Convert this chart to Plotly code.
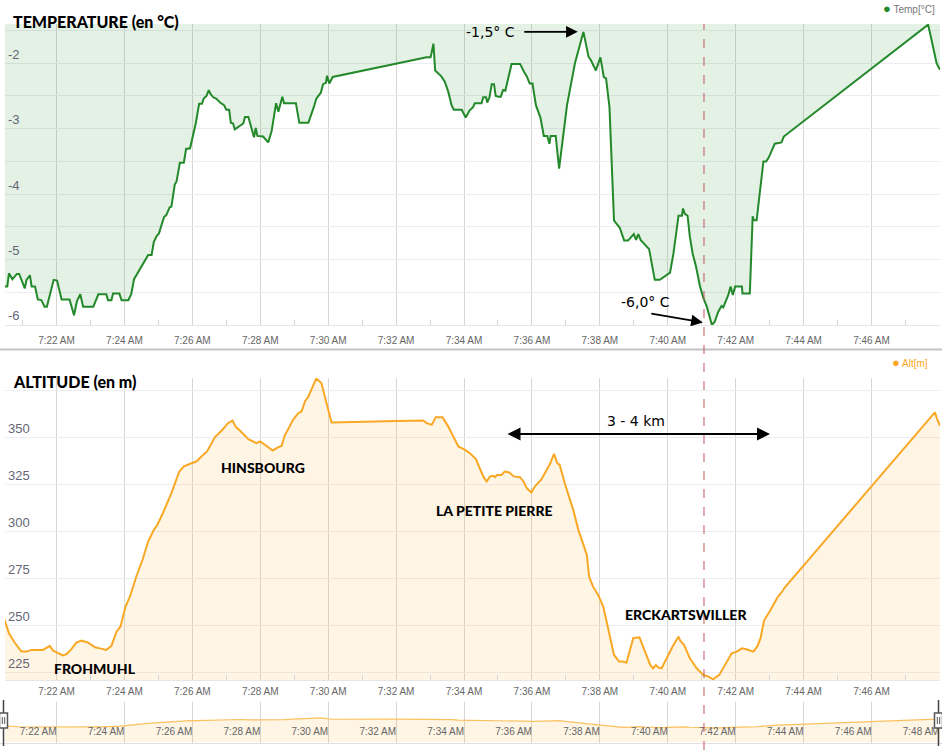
import plotly.graph_objects as go

W, H = 942, 750
DAY = "2016-12-01 "

# temperature trace (time, degC)
temp_time = [
    "07:20:25", "07:20:27", "07:20:33", "07:20:36", "07:20:42", "07:20:50", "07:20:54", "07:21:00",
    "07:21:04", "07:21:07", "07:21:13", "07:21:16", "07:21:22", "07:21:27", "07:21:33", "07:21:39",
    "07:21:43", "07:21:55", "07:22:01", "07:22:09", "07:22:23", "07:22:31", "07:22:36", "07:22:42",
    "07:22:47", "07:23:05", "07:23:14", "07:23:28", "07:23:31", "07:23:37", "07:23:40", "07:23:51",
    "07:23:55", "07:24:07", "07:24:12", "07:24:17", "07:24:42", "07:24:48", "07:24:52", "07:24:57",
    "07:25:01", "07:25:10", "07:25:14", "07:25:20", "07:25:23", "07:25:29", "07:25:32", "07:25:38",
    "07:25:45", "07:25:49", "07:25:56", "07:26:06", "07:26:12", "07:26:17", "07:26:20", "07:26:25",
    "07:26:29", "07:26:32", "07:26:37", "07:26:42", "07:26:49", "07:26:56", "07:27:00", "07:27:05",
    "07:27:08", "07:27:12", "07:27:15", "07:27:30", "07:27:33", "07:27:39", "07:27:45", "07:27:49",
    "07:27:52", "07:27:55", "07:28:05", "07:28:11", "07:28:14", "07:28:20", "07:28:28", "07:28:32",
    "07:28:36", "07:28:39", "07:28:42", "07:29:03", "07:29:09", "07:29:25", "07:29:35", "07:29:39",
    "07:29:47", "07:29:51", "07:29:56", "07:29:58", "07:30:02", "07:30:08", "07:32:54", "07:33:01",
    "07:33:06", "07:33:09", "07:33:20", "07:33:26", "07:33:32", "07:33:38", "07:33:42", "07:33:56",
    "07:34:03", "07:34:10", "07:34:16", "07:34:19", "07:34:31", "07:34:34", "07:34:39", "07:34:41",
    "07:34:45", "07:34:49", "07:34:53", "07:34:56", "07:35:01", "07:35:05", "07:35:09", "07:35:13",
    "07:35:24", "07:35:39", "07:35:46", "07:35:51", "07:35:56", "07:36:01", "07:36:07", "07:36:15",
    "07:36:21", "07:36:27", "07:36:31", "07:36:33", "07:36:42", "07:36:48", "07:37:02", "07:37:16",
    "07:37:31", "07:37:40", "07:37:44", "07:37:53", "07:37:57", "07:38:01", "07:38:07", "07:38:11",
    "07:38:17", "07:38:25", "07:38:30", "07:38:35", "07:38:43", "07:38:50", "07:38:56", "07:39:00",
    "07:39:04", "07:39:08", "07:39:12", "07:39:23", "07:39:27", "07:39:33", "07:39:37", "07:39:46",
    "07:39:55", "07:40:04", "07:40:10", "07:40:19", "07:40:25", "07:40:27", "07:40:30", "07:40:35",
    "07:40:39", "07:40:44", "07:40:50", "07:40:57", "07:41:03", "07:41:09", "07:41:18", "07:41:23",
    "07:41:29", "07:41:35", "07:41:38", "07:41:43", "07:41:47", "07:41:51", "07:41:55", "07:41:59",
    "07:42:11", "07:42:12", "07:42:25", "07:42:30", "07:42:32", "07:42:37", "07:42:43", "07:42:49",
    "07:42:54", "07:42:59", "07:43:09", "07:43:21", "07:43:25", "07:47:38", "07:47:40", "07:47:46",
    "07:47:55", "07:48:01",
]
temp_val = [
    -5.34, -5.41, -5.41, -5.21, -5.30, -5.22, -5.22, -5.36,
    -5.44, -5.31, -5.24, -5.41, -5.41, -5.61, -5.62, -5.72,
    -5.72, -5.31, -5.32, -5.61, -5.61, -5.85, -5.64, -5.53,
    -5.72, -5.72, -5.53, -5.53, -5.62, -5.62, -5.52, -5.52,
    -5.62, -5.62, -5.53, -5.30, -4.93, -4.93, -4.73, -4.64,
    -4.60, -4.35, -4.32, -4.20, -4.19, -3.85, -3.81, -3.52,
    -3.52, -3.31, -3.30, -2.92, -2.62, -2.62, -2.54, -2.50,
    -2.41, -2.47, -2.52, -2.54, -2.60, -2.64, -2.71, -2.71,
    -2.91, -2.92, -3.01, -2.92, -2.82, -2.82, -2.99, -3.13,
    -2.99, -3.11, -3.12, -3.17, -3.21, -3.04, -2.61, -2.74,
    -2.60, -2.51, -2.61, -2.61, -2.91, -2.91, -2.66, -2.54,
    -2.45, -2.32, -2.30, -2.19, -2.31, -2.21, -1.91, -1.91,
    -1.70, -2.11, -2.20, -2.28, -2.43, -2.64, -2.71, -2.71,
    -2.83, -2.72, -2.67, -2.61, -2.61, -2.52, -2.52, -2.60,
    -2.52, -2.32, -2.32, -2.50, -2.51, -2.51, -2.41, -2.42,
    -2.01, -2.01, -2.13, -2.20, -2.31, -2.31, -2.64, -2.83,
    -3.11, -3.11, -3.23, -3.11, -3.11, -3.61, -2.64, -2.00,
    -1.52, -1.90, -1.95, -2.11, -2.01, -1.91, -2.21, -2.23,
    -2.67, -4.40, -4.46, -4.51, -4.71, -4.71, -4.65, -4.61,
    -4.70, -4.61, -4.70, -4.80, -4.84, -5.12, -5.31, -5.31,
    -5.26, -5.20, -4.91, -4.33, -4.33, -4.22, -4.30, -4.33,
    -4.65, -4.91, -5.11, -5.41, -5.59, -5.72, -6.00, -5.95,
    -5.80, -5.71, -5.73, -5.62, -5.54, -5.41, -5.54, -5.41,
    -5.41, -5.52, -5.52, -4.34, -4.40, -4.40, -3.99, -3.50,
    -3.50, -3.43, -3.23, -3.21, -3.12, -1.41, -1.41, -1.64,
    -2.00, -2.10,
]

# altitude trace (time, m)
alt_time = [
    "07:20:25", "07:20:30", "07:20:36", "07:20:46", "07:20:58", "07:21:07", "07:21:16", "07:21:36",
    "07:21:48", "07:21:54", "07:22:03", "07:22:11", "07:22:18", "07:22:26", "07:22:35", "07:22:44",
    "07:22:56", "07:23:08", "07:23:17", "07:23:28", "07:23:37", "07:23:46", "07:23:53", "07:24:02",
    "07:24:10", "07:24:21", "07:24:32", "07:24:42", "07:24:52", "07:24:58", "07:25:08", "07:25:23",
    "07:25:37", "07:25:45", "07:25:56", "07:26:07", "07:26:16", "07:26:26", "07:26:40", "07:26:52",
    "07:27:03", "07:27:11", "07:27:17", "07:27:24", "07:27:39", "07:27:53", "07:28:00", "07:28:10",
    "07:28:22", "07:28:32", "07:28:38", "07:28:43", "07:28:58", "07:29:07", "07:29:13", "07:29:19",
    "07:29:25", "07:29:39", "07:29:48", "07:29:57", "07:30:06", "07:32:01", "07:32:48", "07:32:54",
    "07:33:03", "07:33:10", "07:33:22", "07:33:32", "07:33:40", "07:33:50", "07:34:02", "07:34:10",
    "07:34:21", "07:34:28", "07:34:34", "07:34:40", "07:34:46", "07:34:52", "07:34:55", "07:34:58",
    "07:35:06", "07:35:12", "07:35:20", "07:35:28", "07:35:39", "07:35:45", "07:35:51", "07:35:59",
    "07:36:05", "07:36:17", "07:36:23", "07:36:32", "07:36:39", "07:36:45", "07:36:49", "07:36:58",
    "07:37:13", "07:37:22", "07:37:28", "07:37:37", "07:37:41", "07:37:48", "07:37:57", "07:38:06",
    "07:38:12", "07:38:18", "07:38:25", "07:38:34", "07:38:41", "07:38:47", "07:38:59", "07:39:10",
    "07:39:20", "07:39:29", "07:39:34", "07:39:39", "07:39:43", "07:39:49", "07:40:01", "07:40:10",
    "07:40:19", "07:40:22", "07:40:29", "07:40:39", "07:40:51", "07:41:03", "07:41:12", "07:41:20",
    "07:41:31", "07:41:38", "07:41:44", "07:41:53", "07:42:02", "07:42:11", "07:42:19", "07:42:31",
    "07:42:38", "07:42:44", "07:42:50", "07:43:01", "07:43:14", "07:43:21", "07:43:27", "07:47:49",
    "07:47:52", "07:47:56", "07:48:01",
]
alt_val = [
    256.0, 251.4, 245.9, 241.0, 236.2, 236.2, 237.1, 237.1,
    239.2, 236.7, 235.3, 234.2, 234.9, 237.4, 241.0, 242.0,
    241.0, 238.5, 237.9, 237.1, 239.2, 246.8, 249.5, 260.1,
    265.6, 276.1, 285.0, 294.7, 300.9, 303.5, 309.8, 320.4,
    331.9, 334.6, 336.0, 337.2, 339.9, 342.6, 350.2, 353.7,
    357.6, 359.0, 355.5, 353.7, 349.1, 347.0, 347.9, 345.6,
    343.1, 344.9, 345.6, 350.9, 359.4, 362.9, 363.8, 369.1,
    371.8, 381.3, 378.9, 368.3, 358.0, 358.7, 359.0, 357.6,
    356.7, 360.8, 360.8, 355.9, 351.4, 345.2, 343.4, 341.7,
    338.5, 333.7, 329.3, 326.6, 329.3, 329.6, 328.9, 330.1,
    330.1, 331.9, 331.4, 329.3, 328.9, 326.6, 323.0, 320.7,
    323.9, 327.8, 331.0, 336.0, 341.3, 336.3, 335.5, 325.7,
    311.5, 300.9, 295.6, 287.6, 276.1, 270.7, 266.3, 260.1,
    252.1, 243.3, 234.4, 230.9, 230.9, 230.3, 243.3, 243.8,
    236.2, 229.1, 227.3, 229.1, 227.8, 227.3, 234.4, 239.7,
    244.1, 242.0, 239.7, 232.6, 227.3, 223.8, 222.9, 221.5,
    223.8, 227.3, 230.9, 235.3, 236.2, 237.9, 237.4, 236.2,
    238.8, 243.3, 252.7, 258.0, 265.1, 267.6, 270.4, 362.6,
    363.3, 359.8, 356.2,
]

temp_ticks = [-6, -5.5, -5, -4.5, -4, -3.5, -3, -2.5, -2, -1.5]
alt_ticks = [225, 250, 275, 300, 325, 350, 375]

places = ["FROHMUHL", "HINSBOURG", "LA PETITE PIERRE", "ERCKARTSWILLER"]

tx = [DAY + t for t in temp_time]
ax_ = [DAY + t for t in alt_time]

GREEN = "#23892a"
ORANGE = "#f9a825"
GRID_V = "#d6d6d6"
GRID_H = "#ececf2"
TICKFONT = dict(family="Liberation Sans, Arial", size=10, color="#666666")


def px(x):
    return x / W


def py(y):
    return 1 - y / H


fig = go.Figure()

fig.add_trace(go.Scatter(x=tx, y=temp_val, mode="lines", name="Temp[°C]",
                         line=dict(color=GREEN, width=2), fill="tozeroy",
                         fillcolor="rgba(35,137,42,0.12)", xaxis="x", yaxis="y"))
fig.add_trace(go.Scatter(x=ax_, y=alt_val, mode="lines", name="Alt[m]",
                         line=dict(color=ORANGE, width=2), fill="tozeroy",
                         fillcolor="rgba(255,170,40,0.12)", xaxis="x2", yaxis="y2"))
# navigator
fig.add_trace(go.Scatter(x=ax_, y=alt_val, mode="lines", name="nav",
                         line=dict(color="#fbc15e", width=1.2), fill="tozeroy",
                         fillcolor="rgba(255,170,40,0.12)", xaxis="x3", yaxis="y3"))

xrange_ = [DAY + "07:20:29", DAY + "07:48:01"]
xcommon = dict(type="date", range=xrange_, tick0=DAY + "07:00:00", dtick=120000,
               tickformat="%-I:%M %p", showgrid=True, gridcolor=GRID_V, gridwidth=1,
               ticks="", tickfont=TICKFONT, zeroline=False, fixedrange=True,
               domain=[px(5), px(940)],
               minor=dict(dtick=60000, ticks="inside", ticklen=5, tickcolor="#d6d6d6", showgrid=False))

fig.update_layout(
    width=W, height=H,
    margin=dict(l=0, r=0, t=0, b=0),
    paper_bgcolor="white", plot_bgcolor="white",
    showlegend=False,
    xaxis=dict(xcommon, anchor="y", showline=True, linecolor="#e6e6e6", ticklabelstandoff=6),
    xaxis2=dict(xcommon, anchor="y2", matches="x", showline=True, linecolor="#e6e6e6",
                ticklabelstandoff=2),
    xaxis3=dict(xcommon, anchor="y3", matches="x", ticklabelposition="inside left",
                minor=dict(ticks="")),
    yaxis=dict(domain=[py(325), py(24)], range=[-6.0, -1.4], tickvals=temp_ticks,
               ticktext=[("%d" % v) if v == int(v) else "" for v in temp_ticks],
               ticklabelposition="inside top", gridcolor=GRID_H, zeroline=False,
               tickfont=dict(family="Liberation Sans, Arial", size=13, color="#666677"),
               fixedrange=True),
    yaxis2=dict(domain=[py(680), py(378)], range=[221.1, 381.6], tickvals=alt_ticks,
                ticktext=[str(v) if v < 375 else "" for v in alt_ticks],
                ticklabelposition="inside top", gridcolor=GRID_H, zeroline=False,
                tickfont=dict(family="Liberation Sans, Arial", size=13, color="#666677"),
                fixedrange=True),
    yaxis3=dict(domain=[py(743), py(702)], range=[-14, 628], showticklabels=False,
                showgrid=False, zeroline=False, fixedrange=True),
)

# separator between the two panels and navigator border
fig.add_shape(type="line", xref="paper", yref="paper", x0=0, x1=1, y0=py(349.5), y1=py(349.5),
              line=dict(color="#c4c4c4", width=2))
fig.add_shape(type="line", xref="paper", yref="paper", x0=0, x1=1, y0=py(743.5), y1=py(743.5),
              line=dict(color="#e0e0e0", width=1))

# red dashed cursor
fig.add_shape(type="line", xref="x", yref="paper", x0=DAY + "07:41:04", x1=DAY + "07:41:04",
              y0=0, y1=py(24), line=dict(color="#c0575e", width=1, dash="dash"))

# navigator handles
for hx in (3.5, 938.5):
    fig.add_shape(type="line", xref="paper", yref="paper", x0=px(hx), x1=px(hx),
                  y0=py(700), y1=py(746), line=dict(color="#444444", width=1.5))
    fig.add_shape(type="rect", xref="paper", yref="paper", x0=px(hx - 4), x1=px(hx + 4),
                  y0=py(728), y1=py(713), fillcolor="white", line=dict(color="#555555", width=1.5))
    for dx in (-1.2, 1.2):
        fig.add_shape(type="line", xref="paper", yref="paper", x0=px(hx + dx), x1=px(hx + dx),
                      y0=py(717), y1=py(724), line=dict(color="#555555", width=1))


def label(text, x, y, size, xanchor="center", family="Lato", weight=900):
    fig.add_annotation(text=text, x=px(x), y=py(y), xref="paper", yref="paper",
                       showarrow=False, xanchor=xanchor, yanchor="middle",
                       font=dict(family=family, size=size, color="black", weight=weight))


# panel titles
label("TEMPERATURE (en °C)", 11, 22, 16, xanchor="left")
label("ALTITUDE (en m)", 11, 381, 16, xanchor="left")

# legends
fig.add_annotation(text="<span style='color:%s;font-size:13px'>●</span> Temp[°C]" % GREEN,
                   x=px(937), y=py(8), xref="paper", yref="paper", showarrow=False,
                   xanchor="right", yanchor="middle",
                   font=dict(family="Liberation Sans, Arial", size=10, color="#777777"))
fig.add_annotation(text="<span style='font-size:13px'>●</span> Alt[m]",
                   x=px(930), y=py(362), xref="paper", yref="paper", showarrow=False,
                   xanchor="right", yanchor="middle",
                   font=dict(family="Liberation Sans, Arial", size=10, color=ORANGE))

# place names
label(places[0], 95, 668, 14)
label(places[1], 263, 467, 14)
label(places[2], 494, 510, 14)
label(places[3], 686, 614, 14)

# temperature extremes
label("-1,5° C", 490, 32, 14, family="DejaVu Sans", weight=400)
fig.add_annotation(x=DAY + "07:37:21", y=-1.52, xref="x", yref="y", text="",
                   showarrow=True, ax=-55, ay=0, arrowhead=2, arrowsize=1.3,
                   arrowwidth=1.8, arrowcolor="black")
label("-6,0° C", 645, 302, 14, family="DejaVu Sans", weight=400)
fig.add_annotation(x=DAY + "07:41:02", y=-5.96, xref="x", yref="y", text="",
                   showarrow=True, ax=-53, ay=-9, arrowhead=2, arrowsize=1.3,
                   arrowwidth=1.8, arrowcolor="black")

# distance
label("3 - 4 km", 636, 421, 14, family="DejaVu Sans", weight=400)
fig.add_annotation(x=px(770), y=py(434), xref="paper", yref="paper", text="",
                   showarrow=True, ax=-264, ay=0, arrowhead=2, arrowsize=1.3,
                   arrowwidth=2, arrowcolor="black", arrowside="end+start",
                   startarrowhead=2, startarrowsize=1.3)

fig.write_html("out.html", config={"displayModeBar": False},
               post_script="document.body.style.margin='0';")
